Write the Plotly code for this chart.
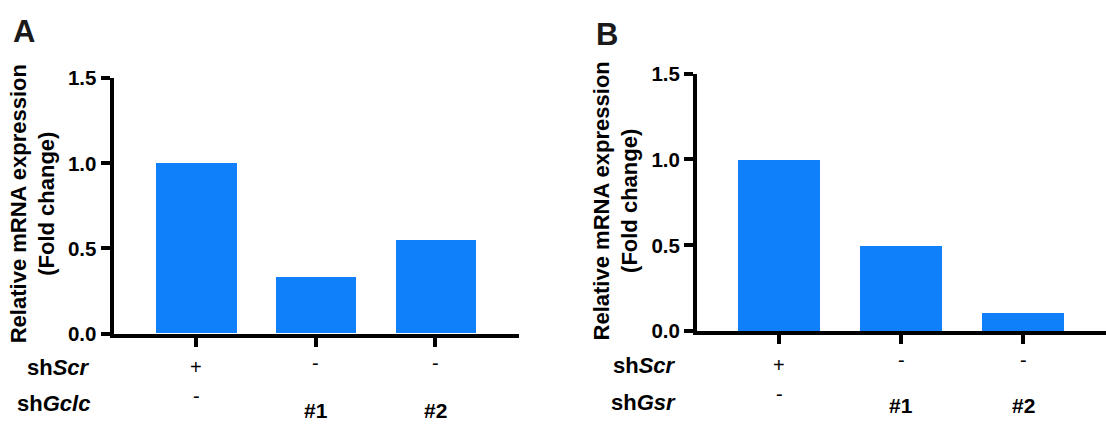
import plotly.graph_objects as go

# ---- data ----
groups = [0, 1, 2]
values_A = [1.0, 0.33, 0.55]
values_B = [1.0, 0.50, 0.11]
y_ticks = [0.0, 0.5, 1.0, 1.5]
y_tick_labels = ["0.0", "0.5", "1.0", "1.5"]
row_scr = ["+", "-", "-"]
row_gclc = ["-", "#1", "#2"]
row_gsr = ["-", "#1", "#2"]
y_title = "Relative mRNA expression<br>(Fold change)"

W, H = 1106, 435
BAR = "#0f7ffa"
FONT = "Liberation Sans, Arial, Helvetica, sans-serif"
LW = 4


def px(x):
    return x / W


def py(y):
    return 1 - y / H


fig = go.Figure()
fig.add_trace(go.Bar(x=groups, y=values_A, xaxis="x", yaxis="y",
                     marker=dict(color=BAR, line=dict(width=0)), width=0.67,
                     showlegend=False, hoverinfo="y"))
fig.add_trace(go.Bar(x=groups, y=values_B, xaxis="x2", yaxis="y2",
                     marker=dict(color=BAR, line=dict(width=0)), width=0.67,
                     showlegend=False, hoverinfo="y"))

xcommon = dict(showline=True, linecolor="black", linewidth=LW, ticks="outside",
               ticklen=9, tickwidth=3.5, tickcolor="black", showticklabels=False,
               showgrid=False, zeroline=False, tickvals=groups, fixedrange=True)
ycommon = dict(showline=True, linecolor="black", linewidth=LW, ticks="outside",
               ticklen=9, tickwidth=3.5, tickcolor="black", range=[0, 1.5],
               tickvals=y_ticks, ticktext=y_tick_labels, showgrid=False,
               zeroline=False, tickfont=dict(size=20.5, color="black", family=FONT, weight="bold"),
               fixedrange=True)

fig.update_layout(
    width=W, height=H, margin=dict(l=0, r=0, t=0, b=0),
    paper_bgcolor="white", plot_bgcolor="white",
    bargap=0,
    font=dict(family=FONT, color="black"),
    xaxis=dict(domain=[px(113.5), px(519)], range=[-0.69, 2.7], anchor="y", **xcommon),
    yaxis=dict(domain=[py(339.5), py(70)], anchor="x", **ycommon),
    xaxis2=dict(domain=[px(697), 1.0], range=[-0.675, 2.68], anchor="y2", **xcommon),
    yaxis2=dict(domain=[py(337), py(65)], anchor="x2", **ycommon),
)

ann = []
# panel letters
ann.append(dict(text="<b>A</b>", x=px(23.5), y=py(21), xref="paper", yref="paper",
                xanchor="center", yanchor="middle", showarrow=False,
                font=dict(size=31, family=FONT, color="#1a1a1a")))
ann.append(dict(text="<b>B</b>", x=px(606.5), y=py(24), xref="paper", yref="paper",
                xanchor="center", yanchor="middle", showarrow=False,
                font=dict(size=31, family=FONT, color="#1a1a1a")))
# y titles
for cx, cy in [(33, 203), (616, 200)]:
    ann.append(dict(text=y_title, x=px(cx), y=py(cy), xref="paper", yref="paper",
                    xanchor="center", yanchor="middle", textangle=-90, showarrow=False,
                    align="center",
                    font=dict(size=22, family=FONT, color="black", weight="bold")))

# row labels
def label(text, xr, ypx):
    ann.append(dict(text=text, x=px(xr), y=py(ypx), xref="paper", yref="paper",
                    xanchor="right", yanchor="middle", showarrow=False,
                    font=dict(size=22, family=FONT, color="black", weight="bold")))

label("sh<i>Scr</i>", 92, 375)
label("sh<i>Gclc</i>", 92, 413)
label("sh<i>Scr</i>", 678, 373)
label("sh<i>Gsr</i>", 678, 412)


def cell(text, xaxis, xi, ypx):
    bold = text.startswith("#")
    ann.append(dict(text=text, x=xi, y=py(ypx), xref=xaxis, yref="paper",
                    xanchor="center", yanchor="middle", showarrow=False,
                    font=dict(size=21 if bold else 20, family=FONT, color="black",
                              weight="bold" if bold else "normal")))


for i, t in enumerate(row_scr):
    cell(t, "x", groups[i], 375 if t == "+" else 371)
for i, t in enumerate(row_gclc):
    cell(t, "x", groups[i], 421 if t.startswith("#") else 405)
for i, t in enumerate(row_scr):
    cell(t, "x2", groups[i], 373 if t == "+" else 367)
for i, t in enumerate(row_gsr):
    cell(t, "x2", groups[i], 415 if t.startswith("#") else 403)

fig.update_layout(annotations=ann)
fig.write_html(
    "out.html",
    config={"displayModeBar": False},
    post_script="document.body.style.margin='0';document.body.style.padding='0';",
)
